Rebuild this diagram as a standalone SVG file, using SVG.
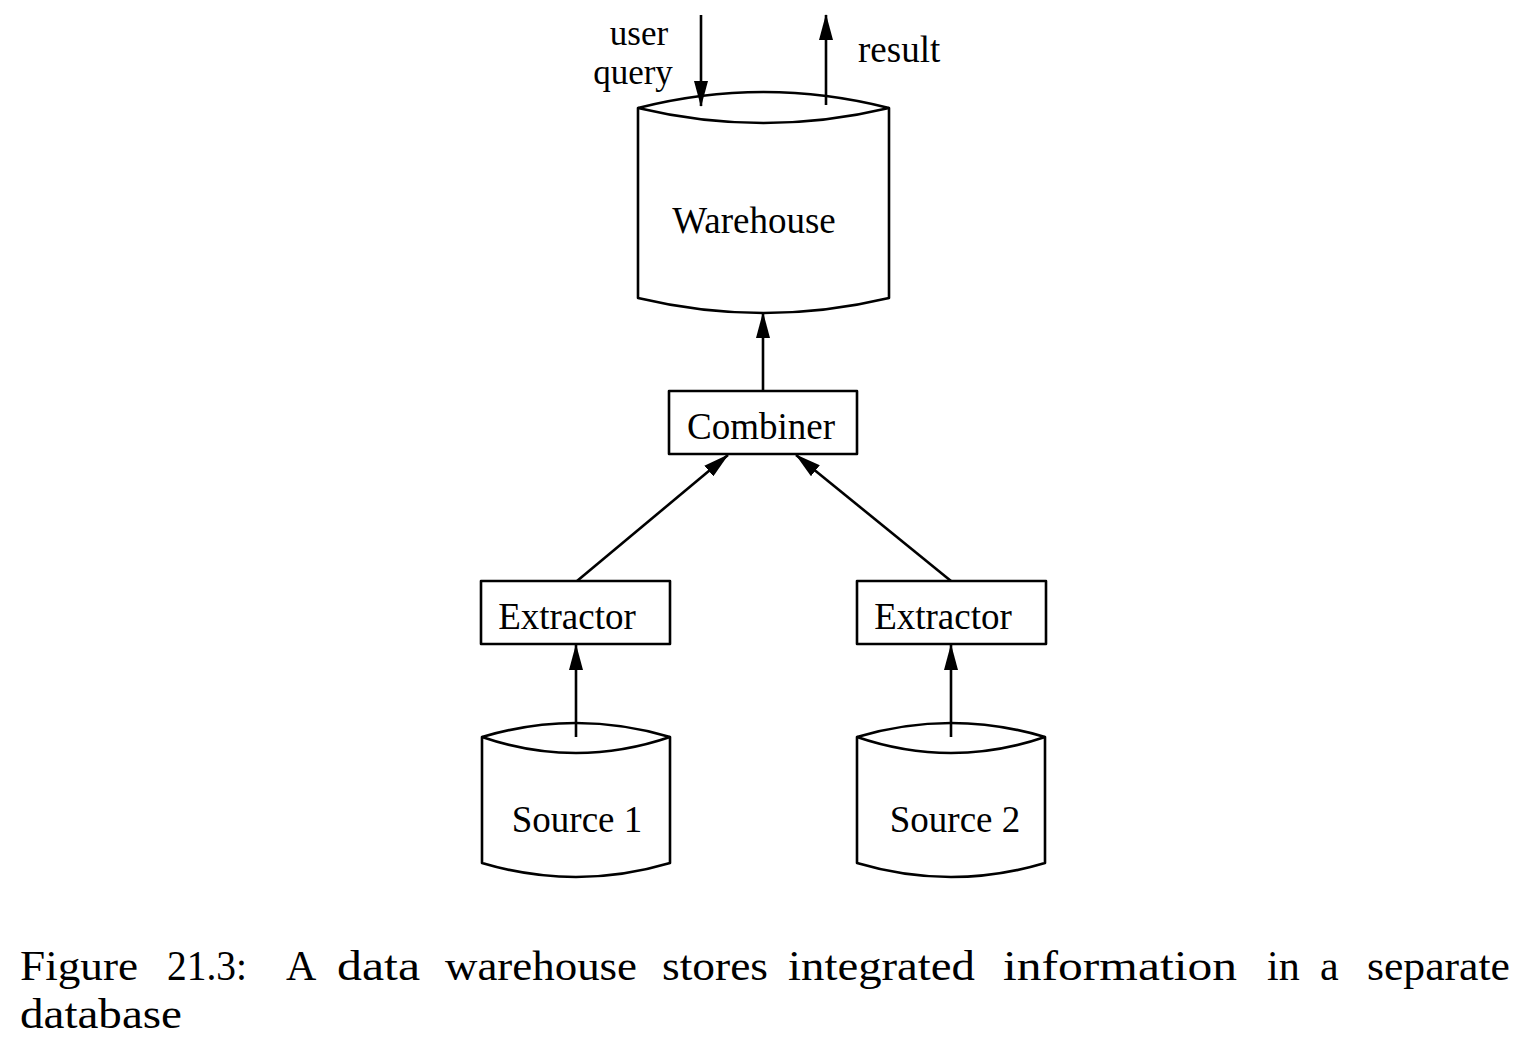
<svg xmlns="http://www.w3.org/2000/svg" width="1538" height="1048" viewBox="0 0 1538 1048">
<style>
.shape{fill:#fff;stroke:#000;stroke-width:2.6;stroke-linejoin:round}
.rim{fill:none;stroke:#000;stroke-width:2.6}
.lbl{font-family:"Liberation Serif","Times New Roman",serif;font-size:37px;fill:#000}
.sm{font-size:35px}
.cap{font-family:"Liberation Serif","Times New Roman",serif;font-size:42px;fill:#000}
.conn{fill:none;stroke:#000;stroke-width:2.6}
</style>
<defs>
<marker id="arr" markerUnits="userSpaceOnUse" markerWidth="26" markerHeight="14" refX="25" refY="7" orient="auto">
<path d="M0,0 L26,7 L0,14 Z" fill="#000"/>
</marker>
</defs>
<rect width="1538" height="1048" fill="#fff"/>

<g id="warehouse">
<path class="shape" d="M638,108 Q763.5,76 889,108 L889,298 Q763.5,328 638,298 Z"/>
<path class="rim" d="M638,108 Q763.5,138 889,108"/>
<text class="lbl" x="754" y="233" text-anchor="middle">Warehouse</text>
</g>

<g id="combiner">
<rect class="shape" x="669" y="391" width="188" height="63"/>
<text class="lbl" x="761" y="439" text-anchor="middle">Combiner</text>
</g>

<g id="extractor1">
<rect class="shape" x="481" y="581" width="189" height="63"/>
<text class="lbl" x="567" y="629" text-anchor="middle">Extractor</text>
</g>

<g id="extractor2">
<rect class="shape" x="857" y="581" width="189" height="63"/>
<text class="lbl" x="943" y="629" text-anchor="middle">Extractor</text>
</g>

<g id="source1">
<path class="shape" d="M482,737 Q576,709 670,737 L670,863 Q576,891 482,863 Z"/>
<path class="rim" d="M482,737 Q576,769 670,737"/>
<text class="lbl" x="577" y="832" text-anchor="middle">Source 1</text>
</g>

<g id="source2">
<path class="shape" d="M857,737 Q951,709 1045,737 L1045,863 Q951,891 857,863 Z"/>
<path class="rim" d="M857,737 Q951,769 1045,737"/>
<text class="lbl" x="955" y="832" text-anchor="middle">Source 2</text>
</g>

<g id="labels">
<text class="lbl sm" x="639" y="45" text-anchor="middle">user</text>
<text class="lbl sm" x="633" y="84" text-anchor="middle">query</text>
<text class="lbl" x="858" y="62">result</text>
</g>

<g id="connectors">
<line class="conn" x1="701" y1="15" x2="701" y2="106" marker-end="url(#arr)"/>
<line class="conn" x1="826" y1="105" x2="826" y2="15" marker-end="url(#arr)"/>
<line class="conn" x1="763" y1="391" x2="763" y2="313" marker-end="url(#arr)"/>
<line class="conn" x1="577" y1="581" x2="728" y2="455" marker-end="url(#arr)"/>
<line class="conn" x1="951" y1="581" x2="796" y2="455" marker-end="url(#arr)"/>
<line class="conn" x1="576" y1="737" x2="576" y2="645" marker-end="url(#arr)"/>
<line class="conn" x1="951" y1="737" x2="951" y2="645" marker-end="url(#arr)"/>
</g>

<g id="caption">
<text class="cap" y="980"><tspan x="20" textLength="118" lengthAdjust="spacingAndGlyphs">Figure</tspan><tspan x="167" textLength="80" lengthAdjust="spacingAndGlyphs">21.3:</tspan><tspan x="286">A</tspan><tspan x="337" textLength="83" lengthAdjust="spacingAndGlyphs">data</tspan><tspan x="445" textLength="192" lengthAdjust="spacingAndGlyphs">warehouse</tspan><tspan x="662" textLength="106" lengthAdjust="spacingAndGlyphs">stores</tspan><tspan x="788" textLength="187" lengthAdjust="spacingAndGlyphs">integrated</tspan><tspan x="1003" textLength="234" lengthAdjust="spacingAndGlyphs">information</tspan><tspan x="1267">in</tspan><tspan x="1320">a</tspan><tspan x="1367" textLength="143" lengthAdjust="spacingAndGlyphs">separate</tspan></text>
<text class="cap" x="20" y="1028" textLength="162" lengthAdjust="spacingAndGlyphs">database</text>
</g>
</svg>
